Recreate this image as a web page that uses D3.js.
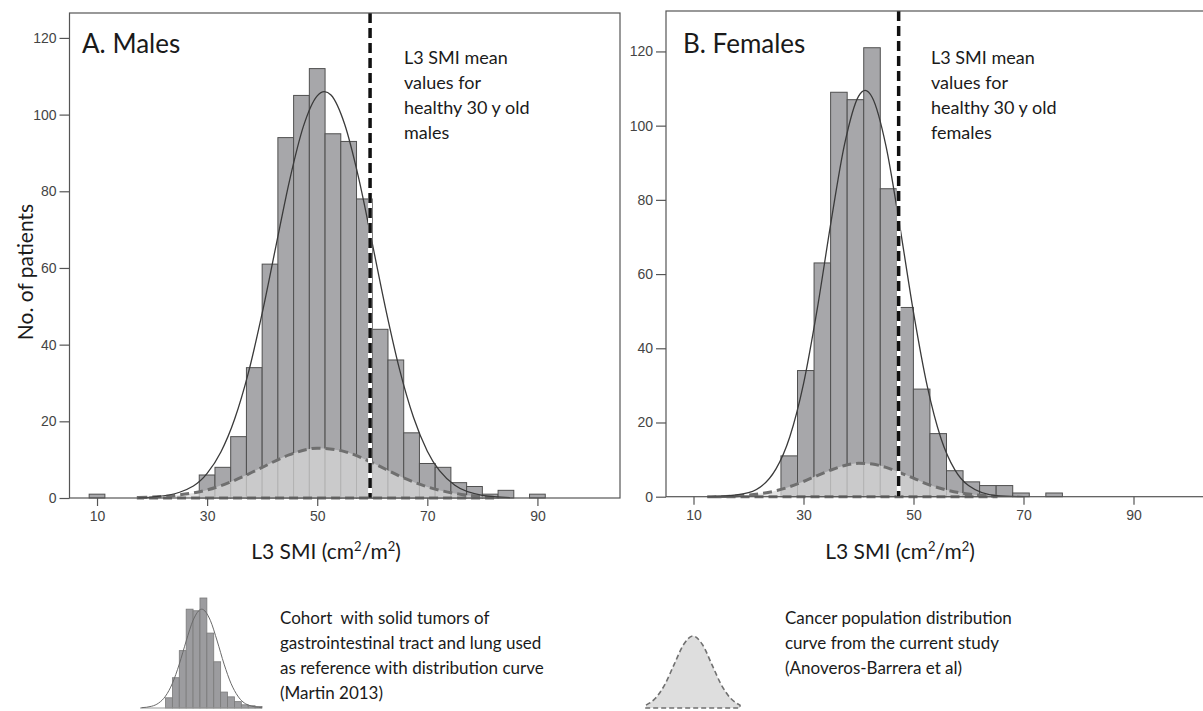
<!DOCTYPE html>
<html>
<head>
<meta charset="utf-8">
<script src="https://cdn.jsdelivr.net/npm/d3@7"></script>
<style>
  body { margin: 0; background: #fff; }
  svg text { font-family: Lato, "Open Sans", sans-serif; }
</style>
</head>
<body>
<div id="chart"></div>
<script>
"use strict";

// ---- data ----
const xTicks = [10, 30, 50, 70, 90];
const yTicks = [0, 20, 40, 60, 80, 100, 120];

// males: histogram bins
const maleBinStart = 8.57, maleBinWidth = 2.857;
const maleCounts = [1, 0, 0, 0, 0, 0, 0, 6, 8, 16, 34, 61, 94, 105, 112, 95, 93, 78, 44, 36, 17, 9, 8, 4, 3, 1, 2, 0, 1];
// males: fitted curve (solid) and cancer population curve (dashed)
const maleFitX = [17.5, 20, 25, 30, 32.5, 35, 37.5, 40, 42.5, 45, 47.5, 50, 51.3, 52.5, 55, 57.5, 60, 62.5, 65, 67.5, 70, 75, 80, 85];
const maleFitY = [0.05, 0.25, 1.5, 6.4, 12.0, 20.6, 32.7, 48.2, 65.7, 83.0, 97.0, 104.9, 106, 105.1, 97.4, 83.6, 66.4, 48.9, 33.3, 21.0, 12.2, 3.3, 0.7, 0.1];
const maleCancerX = [17.5, 20, 25, 30, 35, 40, 45, 50, 55, 60, 65, 70, 75, 80, 82.5];
const maleCancerY = [0.13, 0.25, 0.8, 2.1, 4.6, 8.0, 11.3, 13.0, 12.1, 9.2, 5.7, 2.9, 1.2, 0.4, 0.2];

// females
const femaleBinStart = 25.9, femaleBinWidth = 3.01;
const femaleCounts = [11, 34, 63, 109, 107, 121, 83, 51, 29, 17, 7, 4, 3, 3, 1, 0, 1];
const femaleFitX = [12.5, 15, 20, 25, 27.5, 30, 32.5, 35, 37.5, 40, 41.2, 42.5, 45, 47.5, 50, 52.5, 55, 57.5, 60, 65, 70];
const femaleFitY = [0.0, 0.1, 1.1, 7.5, 16.1, 30.4, 50.6, 74.0, 95.2, 107.9, 109.5, 107.6, 94.5, 73.0, 49.7, 29.8, 15.7, 7.3, 3.0, 0.3, 0.0];
const femaleCancerX = [12.5, 17.5, 22.5, 25, 27.5, 30, 32.5, 35, 37.5, 40, 42.5, 45, 47.5, 50, 52.5, 55, 60, 65];
const femaleCancerY = [0.0, 0.2, 0.9, 1.6, 2.7, 4.1, 5.7, 7.2, 8.4, 9.0, 8.8, 7.9, 6.5, 5.0, 3.4, 2.2, 0.7, 0.15];

// healthy 30 y old reference means
const healthyMeans = [59.6, 47.3];
const panelTitles = ["A. Males", "B. Females"];
const noteLines = [
    ["L3 SMI mean", "values for", "healthy 30 y old", "males"],
    ["L3 SMI mean", "values for", "healthy 30 y old", "females"]
];

// legend icons
const legendHistCounts = [32, 95, 180, 310, 305, 345, 235, 145, 50, 35, 20, 10, 7, 5];
const legendCurveX = [-3.5, -2, -1, 0, 1, 2, 3, 4, 5.25, 6.5, 7.5, 8.5, 9.5, 10.5, 12, 14];
const legendCurveY = [0.9, 5.5, 15.4, 37.2, 77.3, 137.6, 210, 275, 310, 275, 210, 137.6, 77.3, 37.2, 9.3, 0.9];
const legendBellX = [-2.5, -2, -1.5, -1, -0.5, 0, 0.5, 1, 1.5, 2, 2.5];
const legendBellY = [0.04, 0.135, 0.325, 0.607, 0.882, 1, 0.882, 0.607, 0.325, 0.135, 0.04];
const legendText = [
    ["Cohort  with solid tumors of", "gastrointestinal tract and lung used", "as reference with distribution curve", "(Martin 2013)"],
    ["Cancer population distribution", "curve from the current study", "(Anoveros-Barrera et al)"]
];

// ---- drawing ----
const W = 1203, H = 711;
const svg = d3.select("#chart").append("svg")
    .attr("width", W)
    .attr("height", H);

svg.append("rect").attr("width", W).attr("height", H).attr("fill", "#fff");

const panels = [
    {
        left: 69.5, right: 620, top: 13, bottom: 498, yMax: 126.5,
        binStart: maleBinStart, binWidth: maleBinWidth, counts: maleCounts,
        fitX: maleFitX, fitY: maleFitY, cancerX: maleCancerX, cancerY: maleCancerY,
        mean: healthyMeans[0], title: panelTitles[0], note: noteLines[0],
        titleX: 82, noteX: 404, labelX: 326
    },
    {
        left: 666, right: 1216, top: 11, bottom: 496.7, yMax: 130.9,
        binStart: femaleBinStart, binWidth: femaleBinWidth, counts: femaleCounts,
        fitX: femaleFitX, fitY: femaleFitY, cancerX: femaleCancerX, cancerY: femaleCancerY,
        mean: healthyMeans[1], title: panelTitles[1], note: noteLines[1],
        titleX: 683, noteX: 931, labelX: 900
    }
];

panels.forEach((p, i) => {
    const x = d3.scaleLinear().domain([5, 105]).range([p.left, p.right]);
    const y = d3.scaleLinear().domain([0, p.yMax]).range([p.bottom, p.top]);
    const g = svg.append("g");

    // bars
    const bins = p.counts.map((c, k) => ({ x0: p.binStart + k * p.binWidth, x1: p.binStart + (k + 1) * p.binWidth, n: c }))
        .filter(d => d.n > 0);
    g.selectAll("rect.bar")
        .data(bins)
        .enter()
        .append("rect")
        .attr("class", "bar")
        .attr("x", d => x(d.x0))
        .attr("width", d => x(d.x1) - x(d.x0))
        .attr("y", d => y(d.n))
        .attr("height", d => y(0) - y(d.n))
        .attr("fill", "#a7a7aa")
        .attr("stroke", "#505050")
        .attr("stroke-width", 1);

    // cancer population curve, light fill + dashed outline
    const cancer = p.cancerX.map((v, k) => [v, p.cancerY[k]]);
    const area = d3.area()
        .x(d => x(d[0]))
        .y0(y(0))
        .y1(d => y(d[1]))
        .curve(d3.curveMonotoneX);
    g.append("path")
        .datum(cancer)
        .attr("d", area)
        .attr("fill", "#d8d8d8")
        .attr("fill-opacity", 0.72)
        .attr("stroke", "none");
    g.append("path")
        .datum(cancer)
        .attr("d", area)
        .attr("fill", "none")
        .attr("stroke", "#6f6f6f")
        .attr("stroke-width", 3)
        .attr("stroke-dasharray", "9,5");

    // fitted normal curve
    const fit = p.fitX.map((v, k) => [v, p.fitY[k]]);
    g.append("path")
        .datum(fit)
        .attr("fill", "none")
        .attr("stroke", "#3a3a3a")
        .attr("stroke-width", 1.3)
        .attr("d", d3.line()
            .x(d => x(d[0]))
            .y(d => y(d[1]))
            .curve(d3.curveMonotoneX));

    // healthy mean line
    g.append("line")
        .attr("x1", x(p.mean)).attr("x2", x(p.mean))
        .attr("y1", p.top).attr("y2", p.bottom)
        .attr("stroke", "#fff")
        .attr("stroke-width", 4);
    g.append("line")
        .attr("x1", x(p.mean)).attr("x2", x(p.mean))
        .attr("y1", p.top).attr("y2", p.bottom)
        .attr("stroke", "#111")
        .attr("stroke-width", 3.5)
        .attr("stroke-dasharray", "10,5");

    // frame
    g.append("rect")
        .attr("x", p.left).attr("y", p.top)
        .attr("width", p.right - p.left).attr("height", p.bottom - p.top)
        .attr("fill", "none")
        .attr("stroke", "#555")
        .attr("stroke-width", 1.2);

    // axes
    const xAxis = g.append("g")
        .attr("transform", "translate(0," + p.bottom + ")")
        .call(d3.axisBottom(x).tickValues(xTicks).tickSize(8).tickPadding(5));
    const yAxis = g.append("g")
        .attr("transform", "translate(" + p.left + ",0)")
        .call(d3.axisLeft(y).tickValues(yTicks).tickSize(10).tickPadding(3));
    [xAxis, yAxis].forEach(a => {
        a.select(".domain").remove();
        a.selectAll("line").attr("stroke", "#555").attr("stroke-width", 1.2);
        a.selectAll("text")
            .attr("fill", "#444")
            .style("font-family", "'Liberation Sans', Arial, sans-serif")
            .style("font-size", "14px");
    });

    // title & note
    g.append("text")
        .attr("x", p.titleX).attr("y", 53)
        .attr("font-size", 26)
        .attr("fill", "#1a1a1a")
        .text(p.title);
    g.selectAll("text.note")
        .data(p.note)
        .enter()
        .append("text")
        .attr("class", "note")
        .attr("x", p.noteX)
        .attr("y", (d, k) => 64 + k * 25)
        .attr("font-size", 18)
        .attr("fill", "#1a1a1a")
        .text(d => d);

    // x axis label
    const lab = g.append("text")
        .attr("x", p.labelX).attr("y", 559)
        .attr("text-anchor", "middle")
        .attr("font-size", 21)
        .attr("fill", "#1a1a1a");
    lab.append("tspan").text("L3 SMI (cm");
    lab.append("tspan").attr("dy", -8).attr("font-size", 13).text("2");
    lab.append("tspan").attr("dy", 8).text("/m");
    lab.append("tspan").attr("dy", -8).attr("font-size", 13).text("2");
    lab.append("tspan").attr("dy", 8).text(")");
});

// y axis label
svg.append("text")
    .attr("transform", "translate(33,272) rotate(-90)")
    .attr("text-anchor", "middle")
    .attr("font-size", 21)
    .attr("fill", "#1a1a1a")
    .text("No. of patients");

// ---- legend ----
// mini histogram with curve
const lx = d3.scaleLinear().domain([-3.7, 14]).range([140, 262]);
const ly = d3.scaleLinear().domain([0, 345]).range([708, 598]);
const lg = svg.append("g");
lg.selectAll("rect")
    .data(legendHistCounts)
    .enter()
    .append("rect")
    .attr("x", (d, k) => lx(k))
    .attr("width", lx(1) - lx(0))
    .attr("y", d => ly(d))
    .attr("height", d => ly(0) - ly(d))
    .attr("fill", "#9c9c9f")
    .attr("stroke", "#7a7a7a")
    .attr("stroke-width", 0.8);
lg.append("line")
    .attr("x1", lx(-3.7)).attr("x2", lx(14))
    .attr("y1", ly(0)).attr("y2", ly(0))
    .attr("stroke", "#999").attr("stroke-width", 1);
lg.append("path")
    .datum(legendCurveX.map((v, k) => [v, legendCurveY[k]]))
    .attr("fill", "none")
    .attr("stroke", "#6a6a6a")
    .attr("stroke-width", 1)
    .attr("d", d3.line().x(d => lx(d[0])).y(d => ly(d[1])).curve(d3.curveMonotoneX));

// small bell
const bx = d3.scaleLinear().domain([-2.5, 2.5]).range([646, 740]);
const by = d3.scaleLinear().domain([0, 1]).range([708, 636]);
svg.append("path")
    .datum(legendBellX.map((v, k) => [v, legendBellY[k]]))
    .attr("fill", "#dedede")
    .attr("stroke", "#707070")
    .attr("stroke-width", 1.6)
    .attr("stroke-dasharray", "5,3")
    .attr("d", d3.area().x(d => bx(d[0])).y0(by(0)).y1(d => by(d[1])).curve(d3.curveMonotoneX));

legendText.forEach((lines, i) => {
    svg.selectAll("text.leg" + i)
        .data(lines)
        .enter()
        .append("text")
        .attr("class", "leg" + i)
        .attr("x", i === 0 ? 280 : 785)
        .attr("y", (d, k) => 624 + k * 25)
        .attr("font-size", 17)
        .attr("fill", "#1a1a1a")
        .style("white-space", "pre")
        .text(d => d);
});
</script>
</body>
</html>
